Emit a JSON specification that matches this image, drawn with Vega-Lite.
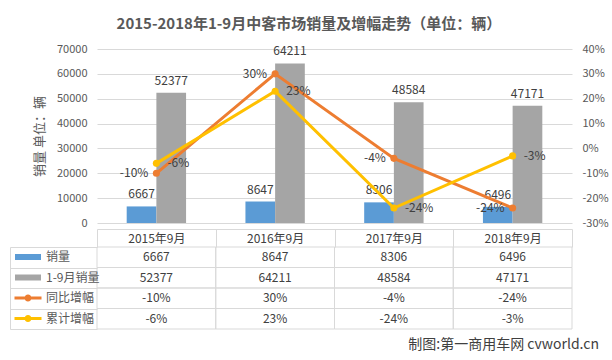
{
  "$schema": "https://vega.github.io/schema/vega-lite/v6.json",
  "background": "white",
  "padding": {"left": 9, "top": 17, "right": 5, "bottom": 4},
  "datasets": {
    "d": [
      {"月份": "2015年9月", "系列": "销量", "值": 6667},
      {"月份": "2015年9月", "系列": "1-9月销量", "值": 52377},
      {"月份": "2015年9月", "系列": "同比增幅", "值": -0.10},
      {"月份": "2015年9月", "系列": "累计增幅", "值": -0.06},
      {"月份": "2016年9月", "系列": "销量", "值": 8647},
      {"月份": "2016年9月", "系列": "1-9月销量", "值": 64211},
      {"月份": "2016年9月", "系列": "同比增幅", "值": 0.30},
      {"月份": "2016年9月", "系列": "累计增幅", "值": 0.23},
      {"月份": "2017年9月", "系列": "销量", "值": 8306},
      {"月份": "2017年9月", "系列": "1-9月销量", "值": 48584},
      {"月份": "2017年9月", "系列": "同比增幅", "值": -0.04},
      {"月份": "2017年9月", "系列": "累计增幅", "值": -0.24},
      {"月份": "2018年9月", "系列": "销量", "值": 6496},
      {"月份": "2018年9月", "系列": "1-9月销量", "值": 47171},
      {"月份": "2018年9月", "系列": "同比增幅", "值": -0.24},
      {"月份": "2018年9月", "系列": "累计增幅", "值": -0.03}
    ]
  },
  "title": {
    "text": "2015-2018年1-9月中客市场销量及增幅走势（单位：辆）",
    "fontSize": 15, "fontWeight": "bold", "color": "#595959",
    "anchor": "middle", "frame": "bounds", "offset": 11
  },
  "config": {
    "font": "Noto Sans CJK SC",
    "view": {"stroke": null},
    "locale": {"number": {"decimal": ".", "thousands": ",", "grouping": [3], "currency": ["", ""], "minus": "-"}}
  },
  "bounds": "flush",
  "spacing": 24,
  "vconcat": [
    {
      "width": 475,
      "height": 174,
      "data": {"name": "d"},
      "layer": [
        {
          "transform": [{"filter": "datum['系列'] === '销量' || datum['系列'] === '1-9月销量'"}],
          "encoding": {
            "x": {
              "field": "月份", "type": "nominal", "sort": null,
              "scale": {"paddingInner": 0, "paddingOuter": 0},
              "axis": {
                "orient": "bottom", "offset": 6, "title": null, "labelAngle": 0,
                "domainColor": "#d9d9d9", "tickBand": "extent", "tickSize": 18, "tickColor": "#d9d9d9",
                "labelPadding": -9, "labelBaseline": "middle", "labelFontSize": 12, "labelColor": "#404040"
              }
            },
            "xOffset": {"field": "系列", "type": "nominal", "sort": ["销量", "1-9月销量"], "scale": {"paddingInner": 0, "paddingOuter": 1.12}},
            "y": {
              "field": "值", "type": "quantitative",
              "scale": {"domain": [0, 70000], "nice": false},
              "axis": {
                "title": "销量 单位：辆", "values": [0, 10000, 20000, 30000, 40000, 50000, 60000, 70000],
                "format": "d", "grid": true, "gridColor": "#d9d9d9", "domain": false, "ticks": false,
                "labelPadding": 10, "labelFontSize": 11, "labelColor": "#595959",
                "titleFontSize": 13, "titleFontWeight": "normal", "titleColor": "#595959", "titlePadding": 10
              }
            }
          },
          "layer": [
            {
              "mark": {"type": "bar"},
              "encoding": {
                "color": {
                  "field": "系列", "type": "nominal",
                  "scale": {"domain": ["销量", "1-9月销量", "同比增幅", "累计增幅"], "range": ["#5B9BD5", "#A5A5A5", "#ED7D31", "#FFC000"]},
                  "legend": {
                    "orient": "none", "legendX": -75, "legendY": 202, "direction": "vertical",
                    "title": null, "padding": 0, "labelFontSize": 12, "labelColor": "#595959",
                    "symbolSize": 100, "labelOffset": 12, "rowPadding": 8.5, "symbolStrokeWidth": 0,
                    "encode": {
                      "symbols": {
                        "update": {
                          "shape": {"signal": "(datum.value === '销量' || datum.value === '1-9月销量') ? 'M-2.6,-0.6H2.6V0.6H-2.6Z' : 'M-2.7,-0.3H2.7V0.3H-2.7Z M0.7,0A0.7,0.7,0,1,1,-0.7,0A0.7,0.7,0,1,1,0.7,0Z'"},
                          "fill": {"scale": "color", "field": "value"},
                          "strokeWidth": {"value": 0},
                          "opacity": {"value": 1},
                          "size": {"value": 100}
                        }
                      }
                    }
                  }
                }
              }
            },
            {
              "mark": {"type": "text", "dy": -12, "fontSize": 12, "color": "#404040"},
              "encoding": {"text": {"field": "值", "type": "quantitative", "format": "d"}}
            }
          ]
        },
        {
          "transform": [{"filter": "datum['系列'] === '同比增幅' || datum['系列'] === '累计增幅'"}],
          "encoding": {
            "x": {"field": "月份", "type": "nominal", "sort": null},
            "y": {
              "field": "值", "type": "quantitative",
              "scale": {"domain": [-0.3, 0.4], "nice": false},
              "axis": {
                "orient": "right", "title": null, "format": ".0%",
                "values": [-0.3, -0.2, -0.1, 0, 0.1, 0.2, 0.3, 0.4],
                "grid": false, "domain": false, "ticks": false,
                "labelPadding": 10, "labelFontSize": 11, "labelColor": "#595959"
              }
            },
            "color": {"field": "系列", "type": "nominal"}
          },
          "layer": [
            {"mark": {"type": "line", "strokeWidth": 3}},
            {"mark": {"type": "point", "filled": true, "size": 50, "opacity": 1}},
            {
              "transform": [{"filter": "datum['系列'] === '同比增幅'"}],
              "mark": {"type": "text", "align": "right", "dx": -8, "fontSize": 12, "color": "#404040"},
              "encoding": {"text": {"field": "值", "type": "quantitative", "format": ".0%"}, "color": {"value": "#404040"}}
            },
            {
              "transform": [{"filter": "datum['系列'] === '累计增幅'"}],
              "mark": {"type": "text", "align": "left", "dx": 11, "fontSize": 12, "color": "#404040"},
              "encoding": {"text": {"field": "值", "type": "quantitative", "format": ".0%"}, "color": {"value": "#404040"}}
            }
          ]
        }
      ],
      "resolve": {"scale": {"y": "independent"}}
    },
    {
      "width": 475,
      "height": 82,
      "data": {"name": "d"},
      "title": {
        "text": "制图:第一商用车网 cvworld.cn", "orient": "bottom", "anchor": "end", "frame": "group",
        "fontSize": 14, "fontWeight": "normal", "color": "#404040", "dx": 27, "offset": 8
      },
      "encoding": {
        "x": {"field": "月份", "type": "nominal", "sort": null, "scale": {"paddingInner": 0, "paddingOuter": 0}, "axis": null},
        "y": {
          "field": "系列", "type": "nominal", "sort": ["销量", "1-9月销量", "同比增幅", "累计增幅"],
          "scale": {"paddingInner": 0, "paddingOuter": 0},
          "axis": {
            "orient": "left", "offset": 87, "tickBand": "extent", "tickSize": -87, "tickColor": "#d9d9d9",
            "domainColor": "#d9d9d9", "labels": false, "title": null
          }
        }
      },
      "layer": [
        {"mark": {"type": "rect", "fill": "transparent", "stroke": "#d9d9d9", "strokeWidth": 1}},
        {
          "transform": [{"filter": "datum['系列'] === '销量' || datum['系列'] === '1-9月销量'"}],
          "mark": {"type": "text", "fontSize": 12, "color": "#404040"},
          "encoding": {"text": {"field": "值", "type": "quantitative", "format": "d"}}
        },
        {
          "transform": [{"filter": "datum['系列'] === '同比增幅' || datum['系列'] === '累计增幅'"}],
          "mark": {"type": "text", "fontSize": 12, "color": "#404040"},
          "encoding": {"text": {"field": "值", "type": "quantitative", "format": ".0%"}}
        }
      ]
    }
  ]
}
